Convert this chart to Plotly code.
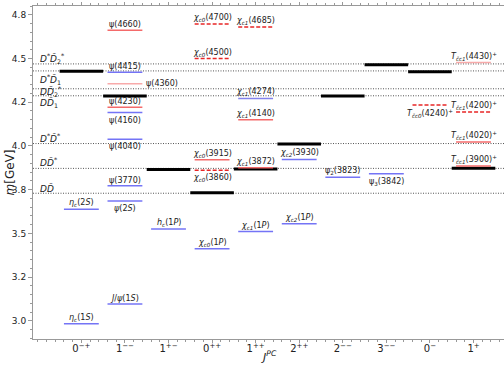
import plotly.graph_objects as go

# ---------------- data ----------------
categories = ["0-+", "1--", "1+-", "0++", "1++", "2++", "2--", "3--", "0-", "1+"]
category_ticktext = ["0<sup>\u2212+</sup>", "1<sup>\u2212\u2212</sup>", "1<sup>+\u2212</sup>", "0<sup>++</sup>",
                     "1<sup>++</sup>", "2<sup>++</sup>", "2<sup>\u2212\u2212</sup>", "3<sup>\u2212\u2212</sup>",
                     "0<sup>\u2212</sup>", "1<sup>+</sup>"]

# thresholds (GeV)
threshold_names = ["<i>D</i><i>D\u0304</i>", "<i>D</i><i>D\u0304</i><sup>*</sup>", "<i>D</i><sup>*</sup><i>D\u0304</i><sup>*</sup>",
                   "<i>D</i><i>D\u0304</i><sub>1</sub>", "<i>D</i><i>D\u0304</i><sub>2</sub><sup>*</sup>",
                   "<i>D</i><sup>*</sup><i>D\u0304</i><sub>1</sub>", "<i>D</i><sup>*</sup><i>D\u0304</i><sub>2</sub><sup>*</sup>"]
threshold_masses = [3.730, 3.872, 4.014, 4.287, 4.327, 4.429, 4.469]
threshold_label_shift = [5, 6, 6, -7, -3, -9, 5]

# lowest S-wave threshold per J^PC (black bars)
black_cols = [0, 1, 2, 3, 4, 5, 6, 7, 8, 9]
black_masses = [4.427, 4.286, 3.866, 3.733, 3.868, 4.012, 4.286, 4.464, 4.424, 3.873]

# states
level_names = ["<i>\u03b7<sub>c</sub></i>(1<i>S</i>)", "<i>\u03b7<sub>c</sub></i>(2<i>S</i>)",
               "<i>J</i>/<i>\u03c8</i>(1<i>S</i>)", "<i>\u03c8</i>(2<i>S</i>)", "\u03c8(3770)", "\u03c8(4040)",
               "\u03c8(4160)", "\u03c8(4230)", "\u03c8(4360)", "\u03c8(4415)", "\u03c8(4660)",
               "<i>h<sub>c</sub></i>(1<i>P</i>)",
               "<i>\u03c7<sub>c0</sub></i>(1<i>P</i>)", "<i>\u03c7<sub>c0</sub></i>(3860)", "<i>\u03c7<sub>c0</sub></i>(3915)",
               "<i>\u03c7<sub>c0</sub></i>(4500)", "<i>\u03c7<sub>c0</sub></i>(4700)",
               "<i>\u03c7<sub>c1</sub></i>(1<i>P</i>)", "<i>\u03c7<sub>c1</sub></i>(3872)", "<i>\u03c7<sub>c1</sub></i>(4140)",
               "<i>\u03c7<sub>c1</sub></i>(4274)", "<i>\u03c7<sub>c1</sub></i>(4685)",
               "<i>\u03c7<sub>c2</sub></i>(1<i>P</i>)", "<i>\u03c7<sub>c2</sub></i>(3930)",
               "\u03c8<sub>2</sub>(3823)", "\u03c8<sub>3</sub>(3842)",
               "<i>T<sub>c\u0304c0</sub></i>(4240)<sup>+</sup>",
               "<i>T<sub>c\u0304c1</sub></i>(3900)<sup>+</sup>", "<i>T<sub>c\u0304c1</sub></i>(4020)<sup>+</sup>",
               "<i>T<sub>c\u0304c1</sub></i>(4200)<sup>+</sup>", "<i>T<sub>c\u0304c1</sub></i>(4430)<sup>+</sup>"]
level_cols = [0, 0, 1, 1, 1, 1, 1, 1, 1, 1, 1, 2, 3, 3, 3, 3, 3, 4, 4, 4, 4, 4, 5, 5, 6, 7, 8, 9, 9, 9, 9]
level_masses = [2.984, 3.638, 3.097, 3.686, 3.773, 4.039, 4.191, 4.222, 4.355, 4.421, 4.661, 3.525,
                3.413, 3.862, 3.922, 4.500, 4.697, 3.511, 3.876, 4.150, 4.272, 4.680,
                3.556, 3.923, 3.822, 3.842, 4.234, 3.886, 4.023, 4.194, 4.477]
level_kinds = ["blue", "blue", "blue", "blue", "blue", "blue", "blue", "red", "pink", "blue", "red", "blue",
               "blue", "dash", "red", "dash", "dash", "blue", "red", "red", "purple", "dash",
               "blue", "blue", "blue", "blue", "dash", "red", "red", "dash", "pink"]
label_pos = ["above", "above", "above", "below", "above", "below", "below", "above", "right", "above", "above", "above",
             "above", "below", "above", "above", "above", "above", "above", "above", "above", "above",
             "above", "above", "above", "below", "below", "above", "above", "above", "above"]

# ---------------- styles ----------------
kind_style = {
    "blue": dict(color="#7474f6", dash="solid", width=1.5),
    "purple": dict(color="#8282ec", dash="solid", width=1.5),
    "red": dict(color="#f46a6a", dash="solid", width=1.5),
    "pink": dict(color="#f8aaaa", dash="solid", width=1.5),
    "dash": dict(color="#e82626", dash="4px,2px", width=1.5),
}
HALF = 0.4
XR = [-1.11, 9.70]
YR = [2.897, 4.80]

fig = go.Figure()

# threshold dotted lines
for m in threshold_masses:
    fig.add_trace(go.Scatter(x=XR, y=[m, m], mode="lines",
                             line=dict(color="#555555", width=1, dash="1px,1.5px"),
                             showlegend=False, hoverinfo="skip"))

# black bars
bx, by = [], []
for c, m in zip(black_cols, black_masses):
    bx += [c - 0.5, c + 0.5, None]
    by += [m, m, None]
fig.add_trace(go.Scatter(x=bx, y=by, mode="lines", line=dict(color="black", width=3),
                         showlegend=False, hoverinfo="skip"))

# coloured levels
for kind in kind_style:
    xs, ys = [], []
    for c, m, k in zip(level_cols, level_masses, level_kinds):
        if k == kind:
            xs += [c - HALF, c + HALF, None]
            ys += [m, m, None]
    if xs:
        fig.add_trace(go.Scatter(x=xs, y=ys, mode="lines", line=kind_style[kind],
                                 showlegend=False, hoverinfo="skip"))

annotations = []
lab_font = dict(family="DejaVu Sans", size=8, color="#222222")
for name, c, m, pos in zip(level_names, level_cols, level_masses, label_pos):
    if pos == "above":
        annotations.append(dict(x=c, y=m, text=name, showarrow=False, xanchor="center",
                                yanchor="bottom", yshift=-1, font=lab_font))
    elif pos == "below":
        annotations.append(dict(x=c, y=m, text=name, showarrow=False, xanchor="center",
                                yanchor="top", yshift=-1, font=lab_font))
    else:
        annotations.append(dict(x=c + HALF + 0.03, y=m, text=name, showarrow=False, xanchor="left",
                                yanchor="middle", font=lab_font))

for name, m, s in zip(threshold_names, threshold_masses, threshold_label_shift):
    annotations.append(dict(x=-1.0, y=m, text=name, showarrow=False, xanchor="left", yanchor="middle",
                            yshift=s, font=dict(family="DejaVu Sans", size=9, color="#222222")))

# axis titles
annotations.append(dict(xref="paper", yref="paper", x=0.5, y=-0.052, text="<i>J</i><sup><i>PC</i></sup>",
                        showarrow=False, xanchor="center", yanchor="middle",
                        font=dict(family="DejaVu Sans", size=11, color="#222222")))
annotations.append(dict(xref="paper", yref="paper", x=-0.049, y=0.5, text="<i>m</i>[GeV]",
                        showarrow=False, textangle=-90, xanchor="center", yanchor="middle",
                        font=dict(family="DejaVu Sans", size=12, color="#222222")))

ytickvals = [3.0, 3.25, 3.5, 3.75, 4.0, 4.25, 4.5, 4.75]
yticktext = ["%.1f" % v for v in ytickvals]

fig.update_layout(
    width=504, height=365,
    margin=dict(l=33, r=0, t=6, b=26),
    paper_bgcolor="white", plot_bgcolor="white",
    annotations=annotations,
    xaxis=dict(range=XR, tickvals=list(range(len(categories))), ticktext=category_ticktext,
               showgrid=False, zeroline=False, showline=True, linecolor="#999999", linewidth=1,
               mirror="allticks", ticks="outside", ticklen=3, tickcolor="#999999",
               ticklabelstandoff=-3,
               tickfont=dict(family="DejaVu Sans", size=10, color="#222222"),
               minor=dict(dtick=0.2, tick0=0, ticks="outside", ticklen=2, tickcolor="#999999", showgrid=False)),
    yaxis=dict(range=YR, tickvals=ytickvals, ticktext=yticktext,
               showgrid=False, zeroline=False, showline=True, linecolor="#999999", linewidth=1,
               mirror=False, ticks="outside", ticklen=4, tickcolor="#999999",
               tickfont=dict(family="DejaVu Sans", size=9, color="#222222"),
               minor=dict(dtick=0.05, tick0=0, ticks="outside", ticklen=2, tickcolor="#999999", showgrid=False)),
)

fig.write_html("out.html", config={"displayModeBar": False},
               post_script="document.body.style.margin='0';document.body.style.overflow='hidden';")
